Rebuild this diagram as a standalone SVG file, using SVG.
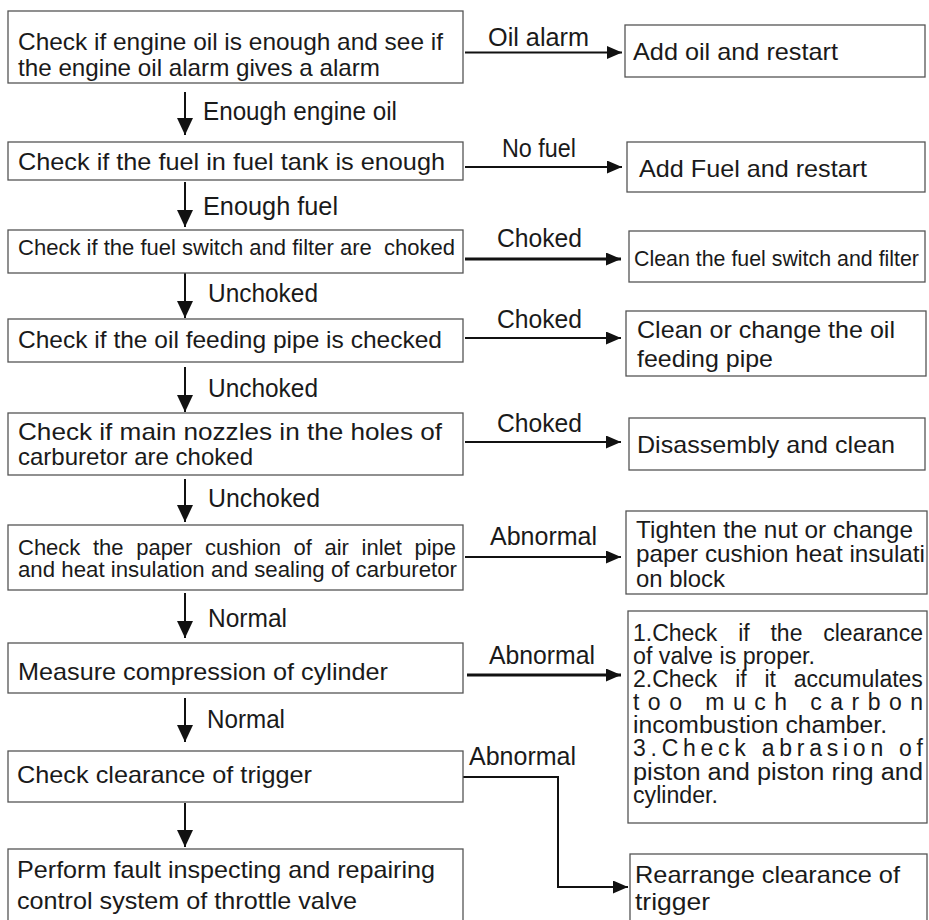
<svg xmlns="http://www.w3.org/2000/svg" width="929" height="920" viewBox="0 0 929 920">
<defs>
<style>
.box{fill:#fff;stroke:#555;stroke-width:1.3}
text{font-family:"Liberation Sans",Arial,sans-serif;font-size:24px;fill:#1a1a1a}
.lbl{font-size:25px}
.s22{font-size:22px}
.s23{font-size:23px}
.c{fill:none;stroke:#111;stroke-width:2}
.ct{fill:none;stroke:#111;stroke-width:3}
</style>
<marker id="ah" viewBox="0 0 15 13" refX="15" refY="6.5" markerWidth="15" markerHeight="13" markerUnits="userSpaceOnUse" orient="auto">
<path d="M0,0 L15,6.5 L0,13 Z" fill="#111"/>
</marker>
<marker id="av" viewBox="0 0 17 16" refX="17" refY="8" markerWidth="17" markerHeight="16" markerUnits="userSpaceOnUse" orient="auto">
<path d="M0,0 L17,8 L0,16 Z" fill="#111"/>
</marker>
</defs>
<rect width="929" height="920" fill="#fff"/>

<g id="connectors">
<line class="c" x1="185" y1="92" x2="185" y2="135" marker-end="url(#av)"/>
<line class="c" x1="185" y1="182" x2="185" y2="227" marker-end="url(#av)"/>
<line class="c" x1="185" y1="273" x2="185" y2="318" marker-end="url(#av)"/>
<line class="c" x1="185" y1="367" x2="185" y2="412" marker-end="url(#av)"/>
<line class="c" x1="185" y1="479" x2="185" y2="522" marker-end="url(#av)"/>
<line class="c" x1="185" y1="593" x2="185" y2="638" marker-end="url(#av)"/>
<line class="c" x1="185" y1="698" x2="185" y2="742" marker-end="url(#av)"/>
<line class="c" x1="185" y1="803" x2="185" y2="847" marker-end="url(#av)"/>
<line class="c" x1="465" y1="52.5" x2="622" y2="52.5" marker-end="url(#ah)"/>
<line class="c" x1="465" y1="167" x2="622" y2="167" marker-end="url(#ah)"/>
<line class="ct" x1="465" y1="259" x2="621" y2="259" marker-end="url(#ah)"/>
<line class="c" x1="465" y1="338" x2="621" y2="338" marker-end="url(#ah)"/>
<line class="c" x1="465" y1="442" x2="621" y2="442" marker-end="url(#ah)"/>
<line class="c" x1="465" y1="557" x2="621" y2="557" marker-end="url(#ah)"/>
<line class="ct" x1="467" y1="675" x2="621" y2="675" marker-end="url(#ah)"/>
<path class="c" d="M463,777 H558 V887 H628" marker-end="url(#ah)"/>
<text class="lbl" x="488" y="46" textLength="101" lengthAdjust="spacingAndGlyphs">Oil alarm</text>
<text class="lbl" x="203" y="120" textLength="194" lengthAdjust="spacingAndGlyphs">Enough engine oil</text>
<text class="lbl" x="502" y="157" textLength="74" lengthAdjust="spacingAndGlyphs">No fuel</text>
<text class="lbl" x="203" y="215" textLength="135" lengthAdjust="spacingAndGlyphs">Enough fuel</text>
<text class="lbl" x="497" y="247" textLength="85" lengthAdjust="spacingAndGlyphs">Choked</text>
<text class="lbl" x="208" y="302" textLength="110" lengthAdjust="spacingAndGlyphs">Unchoked</text>
<text class="lbl" x="497" y="328" textLength="85" lengthAdjust="spacingAndGlyphs">Choked</text>
<text class="lbl" x="208" y="397" textLength="110" lengthAdjust="spacingAndGlyphs">Unchoked</text>
<text class="lbl" x="497" y="432" textLength="85" lengthAdjust="spacingAndGlyphs">Choked</text>
<text class="lbl" x="208" y="507" textLength="112" lengthAdjust="spacingAndGlyphs">Unchoked</text>
<text class="lbl" x="490" y="545" textLength="107" lengthAdjust="spacingAndGlyphs">Abnormal</text>
<text class="lbl" x="208" y="627" textLength="79" lengthAdjust="spacingAndGlyphs">Normal</text>
<text class="lbl" x="489" y="664" textLength="106" lengthAdjust="spacingAndGlyphs">Abnormal</text>
<text class="lbl" x="207" y="728" textLength="78" lengthAdjust="spacingAndGlyphs">Normal</text>
<text class="lbl" x="469" y="765" textLength="107" lengthAdjust="spacingAndGlyphs">Abnormal</text>
</g>

<g id="b1"><rect class="box" x="8" y="11" width="455" height="72"/>
<text x="18" y="50" textLength="425" lengthAdjust="spacingAndGlyphs">Check if engine oil is enough and see if</text>
<text x="18" y="76" textLength="362" lengthAdjust="spacingAndGlyphs">the engine oil alarm gives a alarm</text></g>
<g id="b2"><rect class="box" x="8" y="142" width="455" height="38"/>
<text x="18" y="170" textLength="427" lengthAdjust="spacingAndGlyphs">Check if the fuel in fuel tank is enough</text></g>
<g id="b3"><rect class="box" x="8" y="230" width="455" height="43"/>
<text x="18" y="255" class="s22" style="white-space:pre" textLength="437" lengthAdjust="spacingAndGlyphs">Check if the fuel switch and filter are  choked</text></g>
<g id="b4"><rect class="box" x="8" y="319" width="455" height="43"/>
<text x="18" y="348" textLength="424" lengthAdjust="spacingAndGlyphs">Check if the oil feeding pipe is checked</text></g>
<g id="b5"><rect class="box" x="8" y="413" width="455" height="62"/>
<text x="18" y="440" textLength="424" lengthAdjust="spacingAndGlyphs">Check if main nozzles in the holes of</text>
<text x="18" y="465" textLength="235" lengthAdjust="spacingAndGlyphs">carburetor are choked</text></g>
<g id="b6"><rect class="box" x="8" y="525" width="455" height="65"/>
<text x="18" y="555" class="s22" word-spacing="6.5">Check the paper cushion of air inlet pipe</text>
<text x="18" y="577" class="s22" textLength="439" lengthAdjust="spacingAndGlyphs">and heat insulation and sealing of carburetor</text></g>
<g id="b7"><rect class="box" x="8" y="643" width="455" height="50"/>
<text x="18" y="680" textLength="370" lengthAdjust="spacingAndGlyphs">Measure compression of cylinder</text></g>
<g id="b8"><rect class="box" x="8" y="751" width="455" height="51"/>
<text x="17" y="783" textLength="295" lengthAdjust="spacingAndGlyphs">Check clearance of trigger</text></g>
<g id="b9"><rect class="box" x="8" y="849" width="455" height="80"/>
<text x="17" y="878" textLength="418" lengthAdjust="spacingAndGlyphs">Perform fault inspecting and repairing</text>
<text x="17" y="909" textLength="340" lengthAdjust="spacingAndGlyphs">control system of throttle valve</text></g>

<g id="r1"><rect class="box" x="625" y="25" width="300" height="52"/>
<text x="633" y="60" textLength="205" lengthAdjust="spacingAndGlyphs">Add oil and restart</text></g>
<g id="r2"><rect class="box" x="627" y="142" width="298" height="50"/>
<text x="639" y="177" textLength="228" lengthAdjust="spacingAndGlyphs">Add Fuel and restart</text></g>
<g id="r3"><rect class="box" x="629" y="231" width="296" height="51"/>
<text x="634" y="266" class="s22" textLength="285" lengthAdjust="spacingAndGlyphs">Clean the fuel switch and filter</text></g>
<g id="r4"><rect class="box" x="626" y="311" width="300" height="65"/>
<text x="637" y="338" textLength="258" lengthAdjust="spacingAndGlyphs">Clean or change the oil</text>
<text x="637" y="367" textLength="136" lengthAdjust="spacingAndGlyphs">feeding pipe</text></g>
<g id="r5"><rect class="box" x="629" y="418" width="296" height="52"/>
<text x="637" y="453" textLength="258" lengthAdjust="spacingAndGlyphs">Disassembly and clean</text></g>
<g id="r6"><rect class="box" x="626" y="511" width="301" height="83"/>
<text x="636" y="538" textLength="277" lengthAdjust="spacingAndGlyphs">Tighten the nut or change</text>
<text x="636" y="562" textLength="289" lengthAdjust="spacingAndGlyphs">paper cushion heat insulati</text>
<text x="636" y="587" textLength="89" lengthAdjust="spacingAndGlyphs">on block</text></g>
<g id="r7"><rect class="box" x="628" y="611" width="299" height="212"/>
<text x="633" y="641" class="s23" word-spacing="14.4">1.Check if the clearance</text>
<text x="633" y="664" class="s23" textLength="182" lengthAdjust="spacingAndGlyphs">of valve is proper.</text>
<text x="633" y="687" class="s23" word-spacing="11.4">2.Check if it accumulates</text>
<text x="633" y="710" class="s23" textLength="290" lengthAdjust="spacing">too much carbon</text>
<text x="633" y="733" class="s23" textLength="254" lengthAdjust="spacingAndGlyphs">incombustion chamber.</text>
<text x="633" y="756" class="s23" textLength="290" lengthAdjust="spacing">3.Check abrasion of</text>
<text x="633" y="780" class="s23" textLength="290" lengthAdjust="spacingAndGlyphs">piston and piston ring and</text>
<text x="633" y="803" class="s23" textLength="85" lengthAdjust="spacingAndGlyphs">cylinder.</text></g>
<g id="r8"><rect class="box" x="630" y="854" width="297" height="75"/>
<text x="635" y="883" textLength="265" lengthAdjust="spacingAndGlyphs">Rearrange clearance of</text>
<text x="635" y="910" textLength="75" lengthAdjust="spacingAndGlyphs">trigger</text></g>
</svg>
